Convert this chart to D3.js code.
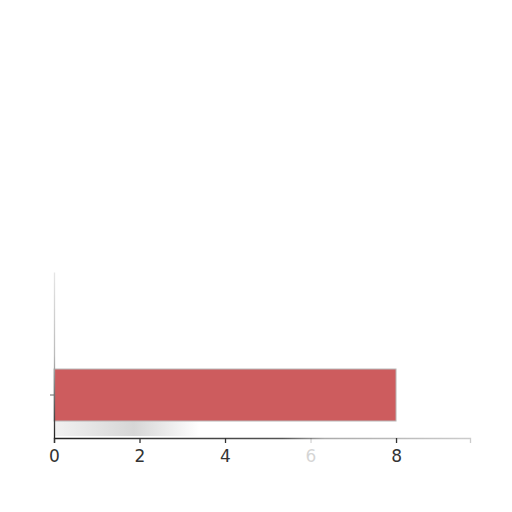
<!DOCTYPE html>
<html>
<head>
<meta charset="utf-8">
<script src="https://cdn.jsdelivr.net/npm/d3@7"></script>
<style>
  body { margin: 0; background: #fff; }
  svg { display: block; }
  .tick text { font-family: "DejaVu Sans", sans-serif; }
</style>
</head>
<body>
<div id="chart"></div>
<script>
var categories = ["A"];
var values = [8];
var xTicks = [0, 2, 4, 6, 8];
var xMax = 9.73;

var w = 512;
var h = 512;

var svg = d3.select("#chart")
  .append("svg")
  .attr("width", w)
  .attr("height", h);

var x = d3.scaleLinear()
  .domain([0, xMax])
  .range([54, 470]);

var y = d3.scaleBand()
  .domain(categories)
  .range([272, 438])
  .paddingInner(0)
  .paddingOuter(1.096)
  .align(0.851);

var defs = svg.append("defs");

// faded axis strokes, like the reference
var gy = defs.append("linearGradient")
  .attr("id", "yfade")
  .attr("gradientUnits", "userSpaceOnUse")
  .attr("x1", 0).attr("y1", 272).attr("x2", 0).attr("y2", 438);
gy.append("stop").attr("offset", "0%").attr("stop-color", "#e6e6e6");
gy.append("stop").attr("offset", "50%").attr("stop-color", "#bbbbbb");
gy.append("stop").attr("offset", "100%").attr("stop-color", "#222");

var gx = defs.append("linearGradient")
  .attr("id", "xfade")
  .attr("gradientUnits", "userSpaceOnUse")
  .attr("x1", 54).attr("y1", 0).attr("x2", 470).attr("y2", 0);
gx.append("stop").attr("offset", "0%").attr("stop-color", "#222");
gx.append("stop").attr("offset", "55%").attr("stop-color", "#555");
gx.append("stop").attr("offset", "65%").attr("stop-color", "#aaa");
gx.append("stop").attr("offset", "100%").attr("stop-color", "#ccc");

var gs = defs.append("linearGradient")
  .attr("id", "shadow")
  .attr("x1", 0).attr("y1", 0).attr("x2", 1).attr("y2", 0);
gs.append("stop").attr("offset", "0%").attr("stop-color", "#eeeeee");
gs.append("stop").attr("offset", "55%").attr("stop-color", "#cccccc");
gs.append("stop").attr("offset", "100%").attr("stop-color", "#ffffff");

// soft grey shadow under the bar
svg.append("rect")
  .attr("x", x(0))
  .attr("y", y(categories[0]) + y.bandwidth())
  .attr("width", x(3.4) - x(0))
  .attr("height", y.range()[1] - y(categories[0]) - y.bandwidth() - 2)
  .attr("fill", "url(#shadow)")
  .attr("opacity", 0.8);

svg.selectAll("rect.bar")
  .data(values)
  .enter()
  .append("rect")
  .attr("class", "bar")
  .attr("x", x(0))
  .attr("y", function(d, i) { return y(categories[i]); })
  .attr("width", function(d) { return x(d) - x(0); })
  .attr("height", y.bandwidth())
  .attr("fill", "#cd5c5e")
  .attr("stroke", "#b9b9b9")
  .attr("stroke-width", 1);

var xAxis = svg.append("g")
  .attr("transform", "translate(0," + 438 + ")")
  .call(d3.axisBottom(x).tickValues(xTicks).tickSizeOuter(0).tickSize(5));

xAxis.select(".domain").attr("stroke", "url(#xfade)").attr("stroke-width", 1.3);
xAxis.selectAll(".tick line").attr("stroke", "#333").attr("stroke-width", 1.3);
xAxis.selectAll(".tick text")
  .attr("font-size", "17px")
  .attr("fill", "#333")
  .attr("dy", "0.95em");
xAxis.selectAll(".tick")
  .filter(function(d) { return d === 6; })
  .attr("opacity", 0.2);

var yAxis = svg.append("g")
  .attr("transform", "translate(" + 54 + ",0)")
  .call(d3.axisLeft(y).tickSize(4).tickSizeOuter(0).tickFormat(function() { return ""; }));

yAxis.select(".domain").attr("stroke", "url(#yfade)").attr("stroke-width", 1.3);
yAxis.selectAll(".tick line").attr("stroke", "#666");
</script>
</body>
</html>
